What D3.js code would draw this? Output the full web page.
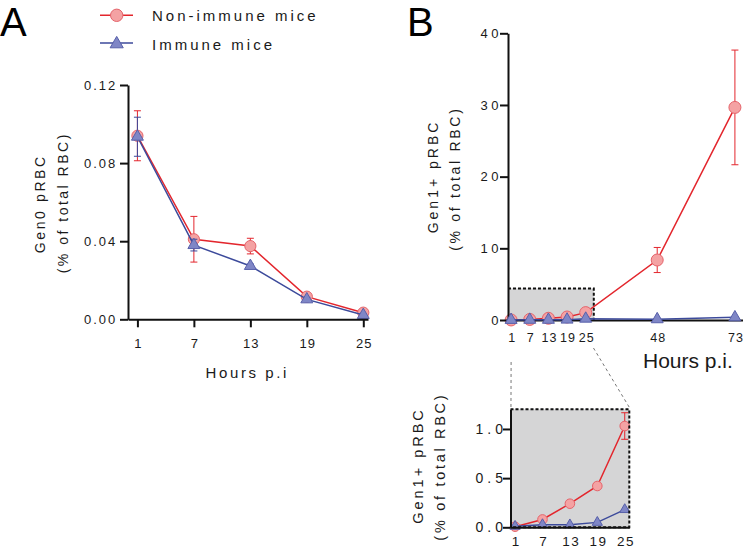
<!DOCTYPE html>
<html><head><meta charset="utf-8">
<script src="https://cdn.jsdelivr.net/npm/d3@7"></script>
<style>html,body{margin:0;padding:0;background:#fff;} svg{display:block;font-family:"Liberation Sans",Arial,sans-serif;}</style>
</head><body>
<svg id="chart" width="743" height="549"></svg>
<script>
// ---------- data ----------
const seriesNames = ["Non-immune mice", "Immune mice"];
const hoursA = [1, 7, 13, 19, 25];
const nonImmuneA = [0.094, 0.041, 0.0375, 0.0116, 0.0034];
const nonImmuneAErr = [0.0128, 0.0117, 0.004, 0.001, 0.0008];
const immuneA = [0.0935, 0.038, 0.0273, 0.0102, 0.0022];
const immuneAErr = [0.010, 0.003, 0.001, 0.001, 0.0005];
const yTicksA = [0, 0.04, 0.08, 0.12];

const hoursB = [1, 7, 13, 19, 25, 48, 73];
const nonImmuneB = [0.006, 0.08, 0.24, 0.42, 1.03, 8.37, 29.66];
const nonImmuneBErr = [0.003, 0.01, 0.02, 0.02, 0.135, 1.75, 8.0];
const immuneB = [0.01, 0.027, 0.025, 0.05, 0.18, 0.1, 0.37];
const immuneBErr = [0.002, 0.005, 0.005, 0.01, 0.02, 0.02, 0.05];
const yTicksB = [0, 10, 20, 30, 40];

const insetHours = [1, 7, 13, 19, 25];
const yTicksInset = [0, 0.5, 1.0];
const zoomBoxMain = [27.6, 4.4];   // hours, % (shaded region in main B)
const zoomBoxInset = [26, 1.2];

// ---------- styles ----------
const RED = '#e3262d', PINK = '#f4a2a3', PINKS = '#e5646b';
const BLUE = '#3c4a9b', LAV = '#7f86c6', LAVS = '#5860aa';
const INK = '#111', TXT = '#1a1a1a';

const svg = d3.select('#chart');

function styleAxis(g, fs, ls, center) {
  g.attr('font-family', null).attr('font-size', null);
  g.select('.domain').attr('stroke', INK).attr('stroke-width', 2);
  g.selectAll('.tick line').attr('stroke', INK).attr('stroke-width', 2);
  g.selectAll('.tick text').attr('font-size', fs).style('letter-spacing', ls + 'px')
    .attr('fill', TXT);
  if (center) g.selectAll('.tick text').attr('dx', (ls / 2) + 'px');
  else g.selectAll('.tick text').attr('dx', (ls) + 'px');
}

function drawSeries(g, x, y, hours, vals, errs, kind, msize) {
  const color = kind === 'circle' ? RED : BLUE;
  const data = hours.map((h, i) => ({h, v: vals[i], e: errs[i]}));
  g.append('path').datum(data)
    .attr('fill', 'none').attr('stroke', color).attr('stroke-width', 1.5)
    .attr('d', d3.line().x(d => x(d.h)).y(d => y(d.v)));
  const eb = g.append('g').attr('stroke', color).attr('stroke-width', 1);
  data.forEach(d => {
    const lo = y(Math.max(0, d.v - d.e)), hi = y(d.v + d.e), cx = x(d.h);
    eb.append('line').attr('x1', cx).attr('x2', cx).attr('y1', lo).attr('y2', hi);
    eb.append('line').attr('x1', cx - 3.5).attr('x2', cx + 3.5).attr('y1', lo).attr('y2', lo);
    eb.append('line').attr('x1', cx - 3.5).attr('x2', cx + 3.5).attr('y1', hi).attr('y2', hi);
  });
  if (kind === 'circle') {
    g.selectAll(null).data(data).enter().append('circle')
      .attr('cx', d => x(d.h)).attr('cy', d => y(d.v)).attr('r', msize)
      .attr('fill', PINK).attr('stroke', PINKS).attr('stroke-width', 1);
  } else {
    g.selectAll(null).data(data).enter().append('path')
      .attr('transform', d => `translate(${x(d.h)},${y(d.v)})`)
      .attr('d', d3.symbol(d3.symbolTriangle, msize)())
      .attr('fill', LAV).attr('stroke', LAVS).attr('stroke-width', 1);
  }
}

function rotLabel(x, y, txt, fs, ls) {
  svg.append('text').attr('transform', `translate(${x},${y}) rotate(-90)`)
    .attr('text-anchor', 'middle').attr('dy', '0.35em').attr('dx', (ls / 2) + 'px')
    .attr('font-size', fs).style('letter-spacing', ls + 'px').attr('fill', TXT).text(txt);
}

// ---------- panel letters ----------
svg.append('text').attr('x', 0).attr('y', 36).attr('font-size', 40).attr('fill', '#000').text('A');
svg.append('text').attr('x', 407).attr('y', 36).attr('font-size', 40).attr('fill', '#000').text('B');

// ---------- legend ----------
const leg = svg.append('g');
leg.append('line').attr('x1', 100).attr('x2', 133).attr('y1', 15.3).attr('y2', 15.3).attr('stroke', RED).attr('stroke-width', 1.5);
leg.append('circle').attr('cx', 116.7).attr('cy', 15.3).attr('r', 6.2).attr('fill', PINK).attr('stroke', PINKS);
leg.append('line').attr('x1', 100).attr('x2', 133).attr('y1', 43).attr('y2', 43).attr('stroke', BLUE).attr('stroke-width', 1.5);
leg.append('path').attr('transform', 'translate(116.7,44)').attr('d', d3.symbol(d3.symbolTriangle, 75)())
  .attr('fill', LAV).attr('stroke', LAVS);
leg.append('text').attr('x', 152).attr('y', 21).attr('font-size', 15).style('letter-spacing', '3px').attr('fill', TXT).text(seriesNames[0]);
leg.append('text').attr('x', 152).attr('y', 49.5).attr('font-size', 15).style('letter-spacing', '3px').attr('fill', TXT).text(seriesNames[1]);

// ---------- panel A ----------
const xA = d3.scaleLinear().domain([0, 25.5]).range([128, 368]);
const yA = d3.scaleLinear().domain([0, 0.12]).range([319.3, 85]);
const gA = svg.append('g');
drawSeries(gA, xA, yA, hoursA, nonImmuneA, nonImmuneAErr, 'circle', 5.6);
drawSeries(gA, xA, yA, hoursA, immuneA, immuneAErr, 'triangle', 62);
svg.append('g').attr('transform', 'translate(128,0)')
  .call(d3.axisLeft(yA).tickValues(yTicksA).tickFormat(d3.format('.2f')).tickSize(8).tickSizeOuter(0).tickPadding(4.7))
  .call(g => styleAxis(g, 13, 2, false));
svg.append('g').attr('transform', 'translate(0,319.3)')
  .call(d3.axisBottom(xA).tickValues(hoursA).tickSize(8).tickSizeOuter(0).tickPadding(11.5))
  .call(g => styleAxis(g, 13, 1, true));
svg.append('text').attr('x', 246).attr('y', 378).attr('text-anchor', 'middle').attr('dx', '1.3px')
  .attr('font-size', 15).style('letter-spacing', '2.6px').attr('fill', TXT).text('Hours p.i');
rotLabel(40, 205, 'Gen0 pRBC', 14, 2.6);
rotLabel(63, 204, '(% of total RBC)', 14, 2.5);

// ---------- panel B main ----------
const xB = d3.scaleLinear().domain([0, 75.6]).range([508, 743]);
const yB = d3.scaleLinear().domain([0, 40]).range([320, 33.3]);
const gB = svg.append('g');
gB.append('rect').attr('x', xB(0)).attr('y', yB(zoomBoxMain[1]))
  .attr('width', xB(zoomBoxMain[0]) - xB(0)).attr('height', yB(0) - yB(zoomBoxMain[1]))
  .attr('fill', '#d5d5d6');
gB.append('path')
  .attr('d', `M${xB(0)},${yB(zoomBoxMain[1])}H${xB(zoomBoxMain[0])}V${yB(0)}`)
  .attr('fill', 'none').attr('stroke', INK).attr('stroke-width', 2).attr('stroke-dasharray', '3,2');
svg.append('g').attr('transform', 'translate(508,0)')
  .call(d3.axisLeft(yB).tickValues(yTicksB).tickFormat(d3.format('d')).tickSize(8).tickSizeOuter(0).tickPadding(1.5))
  .call(g => styleAxis(g, 13, 3.5, false));
svg.append('g').attr('transform', 'translate(0,320)')
  .call(d3.axisBottom(xB).tickValues(hoursB).tickSize(0).tickSizeOuter(0).tickPadding(13))
  .call(g => styleAxis(g, 12.5, 1, true));
drawSeries(gB, xB, yB, hoursB, nonImmuneB, nonImmuneBErr, 'circle', 6);
const gB2 = svg.append('g');
drawSeries(gB2, xB, yB, hoursB, immuneB, immuneBErr, 'triangle', 62);
svg.append('text').attr('x', 643).attr('y', 368).attr('font-size', 21).attr('fill', TXT).text('Hours p.i.');
rotLabel(433, 178, 'Gen1+ pRBC', 14, 3);
rotLabel(455, 180, '(% of total RBC)', 14, 2.7);

// ---------- inset ----------
const xI = d3.scaleLinear().domain([0, zoomBoxInset[0]]).range([510.5, 629.3]);
const yI = d3.scaleLinear().domain([0, zoomBoxInset[1]]).range([527.3, 409.3]);
// connectors
svg.append('path').attr('d', `M${xB(1)},362L${xI(0.1)},${yI(zoomBoxInset[1]) - 1}`)
  .attr('stroke', '#777').attr('stroke-width', 1).attr('stroke-dasharray', '3,3').attr('fill', 'none');
svg.append('path').attr('d', `M${xB(27.5)},348L${xI(zoomBoxInset[0])},${yI(zoomBoxInset[1]) - 2}`)
  .attr('stroke', '#777').attr('stroke-width', 1).attr('stroke-dasharray', '3,3').attr('fill', 'none');
const gI = svg.append('g');
gI.append('rect').attr('x', xI(0)).attr('y', yI(zoomBoxInset[1]))
  .attr('width', xI(zoomBoxInset[0]) - xI(0)).attr('height', yI(0) - yI(zoomBoxInset[1]))
  .attr('fill', '#d5d5d6');
const nI = insetHours.length;
drawSeries(gI, xI, yI, insetHours, nonImmuneB.slice(0, nI), nonImmuneBErr.slice(0, nI), 'circle', 4.8);
drawSeries(gI, xI, yI, insetHours, immuneB.slice(0, nI), immuneBErr.slice(0, nI).map(() => 0), 'triangle', 45);
svg.append('g').attr('transform', 'translate(510.5,0)')
  .call(d3.axisLeft(yI).tickValues(yTicksInset).tickFormat(d3.format('.1f')).tickSize(7.5).tickSizeOuter(0).tickPadding(0))
  .call(g => styleAxis(g, 14, 4, false));
svg.append('g').attr('transform', 'translate(0,527.3)')
  .call(d3.axisBottom(xI).tickValues(insetHours).tickSize(0).tickSizeOuter(0).tickPadding(9))
  .call(g => styleAxis(g, 13.5, 1.5, true));
svg.append('path')
  .attr('d', `M${xI(0)},${yI(zoomBoxInset[1])}H${xI(zoomBoxInset[0])}V${yI(0)}H${xI(0)}`)
  .attr('fill', 'none').attr('stroke', INK).attr('stroke-width', 2).attr('stroke-dasharray', '3,2');
rotLabel(418, 467, 'Gen1+ pRBC', 14.5, 3);
rotLabel(440, 468, '(% of total RBC)', 14.5, 2.7);
</script>
</body></html>
